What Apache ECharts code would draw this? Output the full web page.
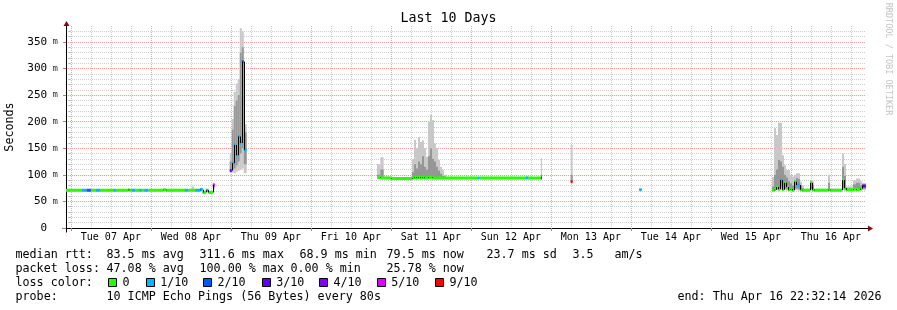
<!DOCTYPE html>
<html><head><meta charset="utf-8">
<script src="https://cdn.jsdelivr.net/npm/echarts@6/dist/echarts.min.js"></script>
<style>html,body{margin:0;padding:0;background:#fff}#c{width:897px;height:310px}</style>
</head><body><div id="c"></div><script>
const MONO = "'DejaVu Sans Mono', monospace";

// ---- axis data ----
const rangeStart = '06 22:32:14';
const rangeEnd = '16 22:32:14';
const dayLabels = ['Tue 07 Apr','Wed 08 Apr','Thu 09 Apr','Fri 10 Apr','Sat 11 Apr','Sun 12 Apr','Mon 13 Apr','Tue 14 Apr','Wed 15 Apr','Thu 16 Apr'];
const yMajor = [0,50,100,150,200,250,300,350];
const yMinor = [10,20,30,40,60,70,80,90,110,120,130,140,160,170,180,190,210,220,230,240,260,270,280,290,310,320,330,340,360,370];
const yMax = 380;

// ---- loss legend ----
const lossLevels = [0,1,2,3,4,5,9];
const lossColors = ['#26ff00','#00b8ff','#0059ff','#5e00ff','#7e00ff','#dd00ff','#ff0000'];
const lossLabels = ['0','1/10','2/10','3/10','4/10','5/10','9/10'];

// ---- series data (bin start 'DD HH:MM', values in ms; null = no data from here) ----
const binStart = [
 '06 22:32','07 03:15','07 04:45','07 06:00','07 07:30','07 08:45','07 12:45','07 13:30','07 17:10','07 17:30',
 '07 18:15','07 19:15','07 20:30','07 21:15','07 22:00','07 23:15','08 03:45','08 04:30','08 10:15','08 11:15',
 '08 12:15','08 13:00','08 13:15','08 14:45','08 15:30','08 16:30','08 17:15','08 18:35','08 19:10',
 '08 23:40','09 00:16','09 00:52','09 01:28','09 02:04','09 02:40','09 03:16','09 03:52','09 04:45',
 '10 19:50','10 20:50','10 21:50','11 00:00','11 06:20','11 06:56','11 07:32','11 08:08','11 08:44','11 09:20',
 '11 09:56','11 10:32','11 11:08','11 11:44','11 12:20','11 12:56','11 13:32','11 14:08','11 14:44','11 15:20',
 '11 15:56','11 16:32','12 02:00','12 02:36','12 16:30','12 17:06','12 21:00','12 21:20',
 '13 05:56','13 06:32',
 '14 02:30','14 03:15',
 '15 18:20','15 18:56','15 19:32','15 20:08','15 20:44','15 21:20','15 21:56','15 22:32','15 23:08','15 23:44',
 '16 00:20','16 00:56','16 01:32','16 02:08','16 02:44','16 03:20','16 03:56','16 05:44','16 06:20','16 06:56',
 '16 11:08','16 11:44','16 15:20','16 15:56','16 16:32','16 18:38','16 19:32','16 20:44','16 21:20','16 22:32'
];
const rttMed = [
 71,71,71,71,71,71,71,71,72,71, 71,71,71,71,71,71,72,71,71,71, 71,71,71,72,67,71,67,81,null,
 108,122,156,137,172,160,313,147,null,
 95,94,94,93,94,95,94,95,94,95, 94,94,95,95,94,94,94,94,94,94, 94,94,94,94,94,94,94,null,
 87,null,
 72,null,
 71,72,77,73,90,72,85,77,72,73, 71,87,81,81,72,71,71,85,72,71, 72,71,90,75,72,73,72,74,79,null
];
const loss = [
 0,1,2,0,1,0,1,0,0,0, 1,0,1,0,1,0,0,0,1,0, 0,0,1,1,0,1,0,5,null,
 3,1,1,1,1,1,2,1,null,
 0,0,0,0,0,0,0,0,0,0, 0,0,0,0,0,0,0,0,0,0, 0,0,1,0,1,0,4,null,
 9,null,
 1,null,
 0,0,0,0,1,0,0,0,0,0, 0,0,1,1,0,0,0,0,0,0, 0,0,0,0,0,0,0,0,3,null
];
const rttMin = [
 69,69,69,69,69,69,69,69,70,69, 69,69,69,69,69,69,70,69,69,69, 69,69,69,70,65,69,65,72,null,
 104,104,103,106,108,110,112,103,null,
 92,92,92,91,92,92,92,92,92,92, 92,92,92,92,92,92,92,92,92,92, 92,92,92,92,92,92,92,null,
 86,null,
 71,null,
 70,70,71,70,71,70,71,70,70,70, 70,71,71,70,70,70,70,71,70,70, 70,70,71,70,70,70,70,70,71,null
];
const rttLo = [
 70,70,70,70,70,70,70,70,71,70, 70,70,70,70,70,70,71,70,70,70, 70,70,70,71,66,70,66,76,null,
 106,110,112,118,125,140,150,120,null,
 93,94,93,92,94,96,95,96,95,97, 95,95,97,98,96,95,95,95,94,94, 94,93,93,93,93,93,94,null,
 88,null,
 71,null,
 71,72,73,74,76,75,74,73,72,72, 71,74,74,73,71,71,71,73,71,71, 72,71,75,72,71,72,72,72,74,null
];
const rttHi = [
 72,72,72,72,72,72,72,72,73,72, 72,72,72,72,72,72,73,72,72,72, 73,72,72,75,68,72,68,82,null,
 125,185,230,240,250,330,340,180,null,
 100,110,95,94,105,120,112,125,120,135, 115,110,135,150,130,125,115,108,102,98, 97,95,95,95,96,95,100,null,
 100,null,
 73,null,
 78,100,110,128,125,115,100,95,88,84, 80,90,94,92,80,75,72,88,80,72, 85,72,115,98,74,82,85,80,82,null
];
const rttMax = [
 73,73,73,73,73,73,73,73,74,73, 73,73,73,73,73,73,74,73,73,73, 78,73,73,76,70,73,70,84,null,
 141,205,256,272,280,376,370,195,null,
 120,133,97,96,130,166,150,171,162,165, 150,134,200,213,203,159,150,128,115,109, 100,96,96,96,98,96,131,null,
 156,null,
 73,null,
 96,188,175,198,198,137,118,109,109,100, 97,100,103,103,87,80,74,90,88,74, 100,74,140,120,78,90,93,88,85,null
];

// ---- legend text ----
const statRows = [
 [['median rtt:',16],['83.5 ms avg',107],['311.6 ms max',200],['68.9 ms min',300],['79.5 ms now',387],['23.7 ms sd',487],['3.5',573],['am/s',615]],
 [['packet loss:',16],['47.08 % avg',107],['100.00 % max',200],['0.00 % min',291],['25.78 % now',387]],
 [['loss color:',16]],
 [['probe:',16],['10 ICMP Echo Pings (56 Bytes) every 80s',107]]
];
const endText = 'end: Thu Apr 16 22:32:14 2026';

function hrs(s){
  const parts = s.split(' ');
  const p = parts[1].split(':').map(Number);
  return (Number(parts[0]) - 7) * 24 + p[0] + p[1] / 60 + (p[2] || 0) / 3600;
}
function lossColor(l){
  let c = lossColors[0];
  for (let k = 0; k < lossLevels.length; k++) if (l >= lossLevels[k]) c = lossColors[k];
  return c;
}
const START = hrs(rangeStart), END = hrs(rangeEnd);

const smokeItems = [], medItems = [];
for (let i = 0; i < binStart.length - 1; i++) {
  if (rttMed[i] == null) continue;
  const t0 = hrs(binStart[i]), t1 = hrs(binStart[i + 1]);
  const prev = (i > 0 && rttMed[i - 1] != null) ? rttMed[i - 1] : -1;
  smokeItems.push([t0, t1, rttMin[i], rttLo[i], rttHi[i], rttMax[i]]);
  medItems.push([t0, t1, rttMed[i], loss[i], prev]);
}

const dayTicks = dayLabels.map((d, k) => 24 * k);
const dayNoon = dayLabels.map((d, k) => 24 * k + 12);
const quarterTicks = [];
dayLabels.forEach((d, k) => { [6, 12, 18].forEach(o => quarterTicks.push(24 * k + o)); });

const MAJOR = '#f3a0a0', MINOR = '#cfcfcf';

const chart = echarts.init(document.getElementById('c'), null, {renderer: 'canvas'});

const graphic = [];
statRows.forEach((row, r) => {
  row.forEach(([txt, x]) => graphic.push({type: 'text', x: x - 0.5, y: 254.5 + r * 14,
    style: {text: txt, font: '11.7px ' + MONO, fill: '#000', verticalAlign: 'middle'}}));
});
const sqX = [108, 145.7, 203, 261.7, 319, 376.7, 435];
lossLabels.forEach((lab, k) => {
  graphic.push({type: 'rect', shape: {x: Math.round(sqX[k]) + 0.5, y: 278.5, width: 8, height: 8},
    style: {fill: lossColors[k], stroke: '#000', lineWidth: 1}});
  graphic.push({type: 'text', x: sqX[k] + 14.5, y: 282.5,
    style: {text: lab, font: '11.7px ' + MONO, fill: '#000', verticalAlign: 'middle'}});
});
graphic.push({type: 'text', x: 677.5, y: 296.5, style: {text: endText, font: '11.7px ' + MONO, fill: '#000', verticalAlign: 'middle'}});
graphic.push({type: 'text', x: 888, y: 59, rotation: -Math.PI / 2,
  style: {text: 'RRDTOOL / TOBI OETIKER', font: '8.5px ' + MONO, fill: '#c4c4c4', align: 'center', verticalAlign: 'middle'}});

const option = {
  backgroundColor: '#fff',
  animation: false,
  title: {text: 'Last 10 Days', left: 'center', top: 12, padding: 0,
    textStyle: {fontFamily: MONO, fontSize: 13.3, fontWeight: 'normal', color: '#000'}},
  grid: {left: 66, right: 31, top: 26, bottom: 82, containLabel: false, outerBoundsMode: 'none'},
  xAxis: [
    {type: 'value', min: START, max: END, position: 'bottom',
      axisLine: {show: true, onZero: false, lineStyle: {color: '#000', width: 1}},
      axisTick: {show: true, customValues: dayTicks, length: 3, lineStyle: {color: '#e07070'}},
      axisLabel: {show: true, customValues: dayNoon, margin: 4, color: '#000', fontFamily: MONO, fontSize: 10,
        formatter: v => dayLabels[Math.round((v - 12) / 24)]},
      splitLine: {show: true, lineStyle: {color: MAJOR, type: [1, 1], width: 1}}},
    {type: 'value', min: START, max: END, position: 'bottom',
      axisLine: {show: false}, axisLabel: {show: false},
      axisTick: {show: false, customValues: quarterTicks},
      splitLine: {show: true, lineStyle: {color: MINOR, type: [1, 1], width: 1}}}
  ],
  yAxis: [
    {type: 'value', min: 0, max: yMax, position: 'left',
      name: 'Seconds', nameLocation: 'middle', nameGap: 48, nameRotate: 90,
      nameTextStyle: {fontFamily: MONO, fontSize: 11.7, color: '#000'},
      axisLine: {show: true, onZero: false, lineStyle: {color: '#000', width: 1}},
      axisTick: {show: true, customValues: yMajor, length: 3, lineStyle: {color: '#e07070'}},
      axisLabel: {show: true, customValues: yMajor, margin: 8,
        formatter: v => v === 0 ? '{n|0}{h| m}' : '{n|' + v + '}{u| m}',
        rich: {n: {fontFamily: MONO, fontSize: 11, color: '#000'},
               u: {fontFamily: MONO, fontSize: 9, color: '#333'},
               h: {fontFamily: MONO, fontSize: 9, color: 'rgba(0,0,0,0)'}}},
      splitLine: {show: true, lineStyle: {color: MAJOR, type: [1, 1], width: 1}}},
    {type: 'value', min: 0, max: yMax, position: 'left',
      axisLine: {show: false}, axisLabel: {show: false},
      axisTick: {show: true, customValues: yMinor, length: 2, lineStyle: {color: '#bbb'}},
      splitLine: {show: true, lineStyle: {color: MINOR, type: [1, 1], width: 1}}}
  ],
  series: [
    {type: 'custom', name: 'smoke', xAxisIndex: 0, yAxisIndex: 0, clip: true,
      encode: {x: [0, 1], y: [2, 5]}, data: smokeItems,
      renderItem: (params, api) => {
        const t0 = api.value(0), t1 = api.value(1);
        const a = api.coord([t0, api.value(5)]), b = api.coord([t1, api.value(2)]);
        const c = api.coord([t0, api.value(4)]), d = api.coord([t1, api.value(3)]);
        return {type: 'group', children: [
          {type: 'rect', shape: {x: a[0], y: a[1], width: b[0] - a[0], height: b[1] - a[1]}, style: {fill: '#c8c8c8'}},
          {type: 'rect', shape: {x: c[0], y: c[1], width: d[0] - c[0], height: d[1] - c[1]}, style: {fill: '#969696'}}
        ]};
      }},
    {type: 'custom', name: 'median', xAxisIndex: 0, yAxisIndex: 0, clip: true,
      encode: {x: [0, 1], y: 2}, data: medItems,
      renderItem: (params, api) => {
        const t0 = api.value(0), t1 = api.value(1), m = api.value(2), l = api.value(3), pv = api.value(4);
        const a = api.coord([t0, m]), b = api.coord([t1, m]);
        const ch = [{type: 'rect', shape: {x: a[0], y: a[1] - 1.5, width: b[0] - a[0], height: 3}, style: {fill: lossColor(l)}}];
        if (pv >= 0 && pv !== m) {
          const p = api.coord([t0, pv]);
          const x = Math.round(a[0]) + 0.5;
          ch.push({type: 'line', shape: {x1: x, y1: p[1], x2: x, y2: a[1]}, style: {stroke: '#000', lineWidth: 1}});
        }
        return {type: 'group', children: ch};
      }}
  ],
  graphic: graphic
};
chart.setOption(option);

// axis arrows and small axis extensions, placed from the grid's own pixel mapping
const bl = chart.convertToPixel({xAxisIndex: 0, yAxisIndex: 0}, [START, 0]);
const tr = chart.convertToPixel({xAxisIndex: 0, yAxisIndex: 0}, [END, yMax]);
const L = Math.round(bl[0]) + 0.5, B = Math.round(bl[1]) + 0.5, R = tr[0], T = tr[1];
chart.setOption({graphic: graphic.concat([
  {type: 'line', shape: {x1: L - 4, y1: B, x2: R + 2, y2: B}, style: {stroke: '#000', lineWidth: 1}},
  {type: 'line', shape: {x1: L, y1: B + 4, x2: L, y2: T}, style: {stroke: '#000', lineWidth: 1}},
  {type: 'polygon', shape: {points: [[R + 2, B - 3], [R + 7, B], [R + 2, B + 3]]}, style: {fill: '#7a1010'}},
  {type: 'polygon', shape: {points: [[L - 3, T], [L, T - 5], [L + 3, T]]}, style: {fill: '#7a1010'}}
])});
</script></body></html>
